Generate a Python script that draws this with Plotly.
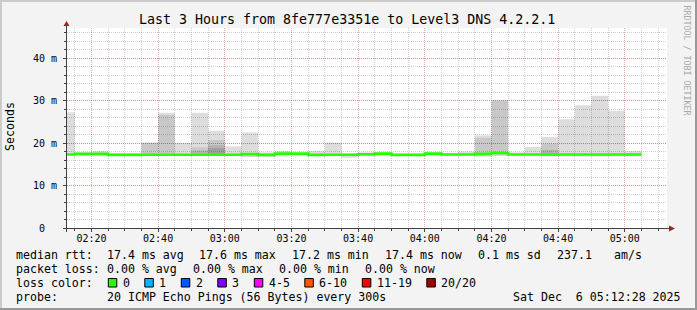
import plotly.graph_objects as go

# ---------------- data ----------------
DAY = "2025-12-06 "
bin_start = ["02:10", "02:15", "02:20", "02:25", "02:30", "02:35", "02:40", "02:45",
             "02:50", "02:55", "03:00", "03:05", "03:10", "03:15", "03:20", "03:25",
             "03:30", "03:35", "03:40", "03:45", "03:50", "03:55", "04:00", "04:05",
             "04:10", "04:15", "04:20", "04:25", "04:30", "04:35", "04:40", "04:45",
             "04:50", "04:55", "05:00"]
last_bin_end = "05:05"

# median RTT per 5-minute step (ms)
median_rtt = [17.3, 17.45, 17.45, 17.2, 17.2, 17.25, 17.25, 17.25, 17.25, 17.25,
              17.25, 17.4, 17.2, 17.5, 17.5, 17.2, 17.25, 17.25, 17.35, 17.5,
              17.2, 17.2, 17.5, 17.3, 17.3, 17.45, 17.65, 17.3, 17.3, 17.3,
              17.3, 17.3, 17.3, 17.3, 17.3]

# smoke: outer (lightest) band = min..max of the 20 pings (ms)
smoke_min = [17.05, 17.05, 17.05, 17.05, 17.05, 17.05, 17.05, 17.05, 17.05, 17.05,
             17.05, 16.75, 16.8, 17.05, 17.05, 17.05, 17.05, 16.5, 16.85, 17.05,
             17.05, 17.05, 17.05, 17.05, 17.05, 16.75, 17.0, 17.05, 17.05, 16.85,
             16.85, 16.85, 16.85, 16.85, 16.85]
smoke_max = [27.2, 17.8, 18.1, 17.6, 17.6, 20.1, 27.1, 20.0, 27.1, 22.9,
             19.2, 22.5, 17.8, 18.1, 17.7, 18.1, 20.1, 17.6, 17.8, 17.8,
             17.5, 17.5, 17.8, 17.7, 18.0, 21.8, 30.1, 17.8, 19.1, 21.4,
             25.6, 28.9, 31.1, 27.6, 18.1]
# inner smoke bands (darker), None where not visible
N = None
mid_lo = [N, N, N, N, N, 17.05, 17.05, N, 17.05, 17.05, N, 16.75, 16.8, N, N, N, N, N, N, N,
          N, N, N, N, N, 17.05, 17.05, N, N, 17.05, N, N, N, N, N]
mid_hi = [N, N, N, N, N, 20.1, 26.6, N, 19.0, 20.7, N, 17.5, 17.5, N, N, N, N, N, N, N,
          N, N, N, N, N, 21.2, 29.9, N, N, 19.8, N, N, N, N, N]
dark_lo = [N, N, N, N, N, N, N, N, 17.05, 17.05, N, N, N, N, N, N, N, N, N, N,
           N, N, N, N, N, N, N, N, N, 17.05, N, N, N, N, N]
dark_hi = [N, N, N, N, N, N, N, N, 18.2, 19.5, N, N, N, N, N, N, N, N, N, N,
           N, N, N, N, N, N, N, N, N, 18.4, N, N, N, N, N]
core_lo = [N, N, N, N, N, N, N, N, N, 17.05, N, N, N, N, N, N, N, N, N, N,
           N, N, N, N, N, N, N, N, N, N, N, N, N, N, N]
core_hi = [N, N, N, N, N, N, N, N, N, 18.8, N, N, N, N, N, N, N, N, N, N,
           N, N, N, N, N, N, N, N, N, N, N, N, N, N, N]

ytick_vals = [0, 10, 20, 30, 40]
ytick_text = ["0\u00a0\u00a0", "10 m", "20 m", "30 m", "40 m"]

title_text = "Last 3 Hours from 8fe777e3351e to Level3 DNS 4.2.2.1"
rtt_label = "median rtt:"
rtt_stats = ["17.4 ms avg", "17.6 ms max", "17.2 ms min", "17.4 ms now", "0.1 ms sd", "237.1", "am/s"]
loss_label = "packet loss:"
loss_stats = ["0.00 % avg", "0.00 % max", "0.00 % min", "0.00 % now"]
color_label = "loss color:"
loss_labels = ["0", "1", "2", "3", "4-5", "6-10", "11-19", "20/20"]
loss_colors = ["#26ff00", "#00b8ff", "#0059ff", "#7e00ff", "#ff00ff", "#ff5500", "#ff0000", "#a10000"]
probe_label = "probe:"
probe_text = "20 ICMP Echo Pings (56 Bytes) every 300s"
stamp_text = "Sat Dec\u00a0\u00a06 05:12:28 2025"
watermark = "RRDTOOL / TOBI OETIKER"

# ---------------- layout geometry ----------------
W, H = 697, 310
ML, MR, MT, MB = 67, 30, 28, 82
PW, PH = W - ML - MR, H - MT - MB
MONO = "DejaVu Sans Mono"


def px(x):
    return (x - ML) / PW


def py(y):
    return (H - MB - y) / PH


xs = [DAY + t for t in bin_start]


def band(lo, hi, color):
    heights = [None if (a is None or b is None) else b - a for a, b in zip(lo, hi)]
    return go.Bar(x=xs, y=heights, base=lo, width=300000, offset=0,
                  marker=dict(color=color, line=dict(width=0)), hoverinfo="skip")


fig = go.Figure()
fig.add_trace(band(smoke_min, smoke_max, "rgba(0,0,0,0.133)"))
fig.add_trace(band(mid_lo, mid_hi, "rgba(0,0,0,0.095)"))
fig.add_trace(band(dark_lo, dark_hi, "rgba(0,0,0,0.10)"))
fig.add_trace(band(core_lo, core_hi, "rgba(0,0,0,0.111)"))
fig.add_trace(go.Scatter(x=xs + [DAY + last_bin_end], y=median_rtt + [median_rtt[-1]],
                         mode="lines", line=dict(color="#26ff00", width=2.6, shape="hv"),
                         hoverinfo="skip"))

major_grid = "rgba(200,60,60,0.42)"
minor_grid = "rgba(140,140,140,0.42)"
axis_col = "#404040"

fig.update_layout(
    width=W, height=H, margin=dict(l=ML, r=MR, t=MT, b=MB, pad=0),
    paper_bgcolor="#f3f3f3", plot_bgcolor="white",
    showlegend=False, barmode="overlay",
    xaxis=dict(type="date", range=[DAY + "02:12:40", DAY + "05:12:40"],
               tick0=DAY + "02:00", dtick=1200000, tickformat="%H:%M",
               showgrid=True, gridcolor=major_grid, griddash="1px,1px", gridwidth=1,
               ticks="outside", ticklen=3, tickcolor=axis_col, tickwidth=1,
               minor=dict(dtick=300000, tick0=DAY + "02:00", showgrid=True,
                          gridcolor=minor_grid, griddash="1px,1px",
                          ticks="outside", ticklen=2, tickcolor=axis_col),
               zeroline=False, showline=False, ticklabelstandoff=-2,
               tickfont=dict(family=MONO, size=10, color="black"), fixedrange=True),
    yaxis=dict(range=[0, PH / 4.25], tickvals=ytick_vals, ticktext=ytick_text,
               showgrid=True, gridcolor=major_grid, griddash="1px,1px", gridwidth=1,
               ticks="outside", ticklen=3, tickcolor=axis_col,
               minor=dict(dtick=2, tick0=0, showgrid=True, gridcolor=minor_grid,
                          griddash="1px,1px", ticks="outside", ticklen=2, tickcolor=axis_col),
               zeroline=False, showline=False, ticklabelstandoff=4,
               tickfont=dict(family=MONO, size=10, color="black"), fixedrange=True),
)

shapes = []
# 3D frame around the image
shapes.append(dict(type="rect", xref="paper", yref="paper", x0=px(0), x1=px(W), y0=py(0), y1=py(2),
                   fillcolor="#cbcbcb", line=dict(width=0)))
shapes.append(dict(type="rect", xref="paper", yref="paper", x0=px(0), x1=px(2), y0=py(0), y1=py(H),
                   fillcolor="#cbcbcb", line=dict(width=0)))
shapes.append(dict(type="rect", xref="paper", yref="paper", x0=px(W - 2), x1=px(W), y0=py(0), y1=py(H),
                   fillcolor="#999999", line=dict(width=0)))
shapes.append(dict(type="rect", xref="paper", yref="paper", x0=px(0), x1=px(W), y0=py(H - 2), y1=py(H),
                   fillcolor="#999999", line=dict(width=0)))
# axes with arrows
shapes.append(dict(type="line", xref="paper", yref="paper", x0=px(66.5), x1=px(66.5),
                   y0=py(232), y1=py(25), line=dict(color=axis_col, width=1), layer="above"))
shapes.append(dict(type="line", xref="paper", yref="paper", x0=px(63), x1=px(670),
                   y0=py(228.5), y1=py(228.5), line=dict(color=axis_col, width=1), layer="above"))
shapes.append(dict(type="path", xref="paper", yref="paper", layer="above",
                   path=f"M {px(66.5)},{py(21)} L {px(63.5)},{py(26)} L {px(69.5)},{py(26)} Z",
                   fillcolor="#a82020", line=dict(width=0)))
shapes.append(dict(type="path", xref="paper", yref="paper", layer="above",
                   path=f"M {px(675)},{py(228.5)} L {px(669)},{py(225.5)} L {px(669)},{py(231.5)} Z",
                   fillcolor="#a82020", line=dict(width=0)))

annotations = []


def ann(text, x, y, size=11.6, anchor="left", angle=0, color="black"):
    annotations.append(dict(text=text, x=px(x), y=py(y), xref="paper", yref="paper",
                            xanchor=anchor, yanchor="middle", showarrow=False,
                            textangle=angle, borderpad=0, borderwidth=0,
                            font=dict(family=MONO, size=size, color=color)))


ann(title_text, 347, 20, size=13.3, anchor="center")
ann("Seconds", 10, 127, size=11.6, anchor="center", angle=-90)
ann(watermark, 686.5, 60, size=8.3, anchor="center", angle=90, color="#a8a8a8")

CW = 7.0  # monospace advance of legend font
row_y = [255, 269, 283, 297]
ann(rtt_label, 15.5, row_y[0])
for txt, x in zip(rtt_stats, [106.5, 199, 292, 385, 478, 556.6, 613.5]):
    ann(txt, x, row_y[0])
ann(loss_label, 15.5, row_y[1])
for txt, x in zip(loss_stats, [106.5, 192.5, 278.5, 364.5]):
    ann(txt, x, row_y[1])
ann(color_label, 15.5, row_y[2])
bx = 108.3
for lab, col in zip(loss_labels, loss_colors):
    shapes.append(dict(type="rect", xref="paper", yref="paper", x0=px(bx), x1=px(bx + 8.5),
                       y0=py(278.5), y1=py(287), fillcolor=col, line=dict(color="black", width=1)))
    ann(lab, bx + 14.5, row_y[2])
    bx = bx + 14.5 + CW * len(lab) + 15
ann(probe_label, 15.5, row_y[3])
ann(probe_text, 106.5, row_y[3])
ann(stamp_text, 513, row_y[3])

fig.update_layout(shapes=shapes, annotations=annotations)
fig.write_html("out.html")
